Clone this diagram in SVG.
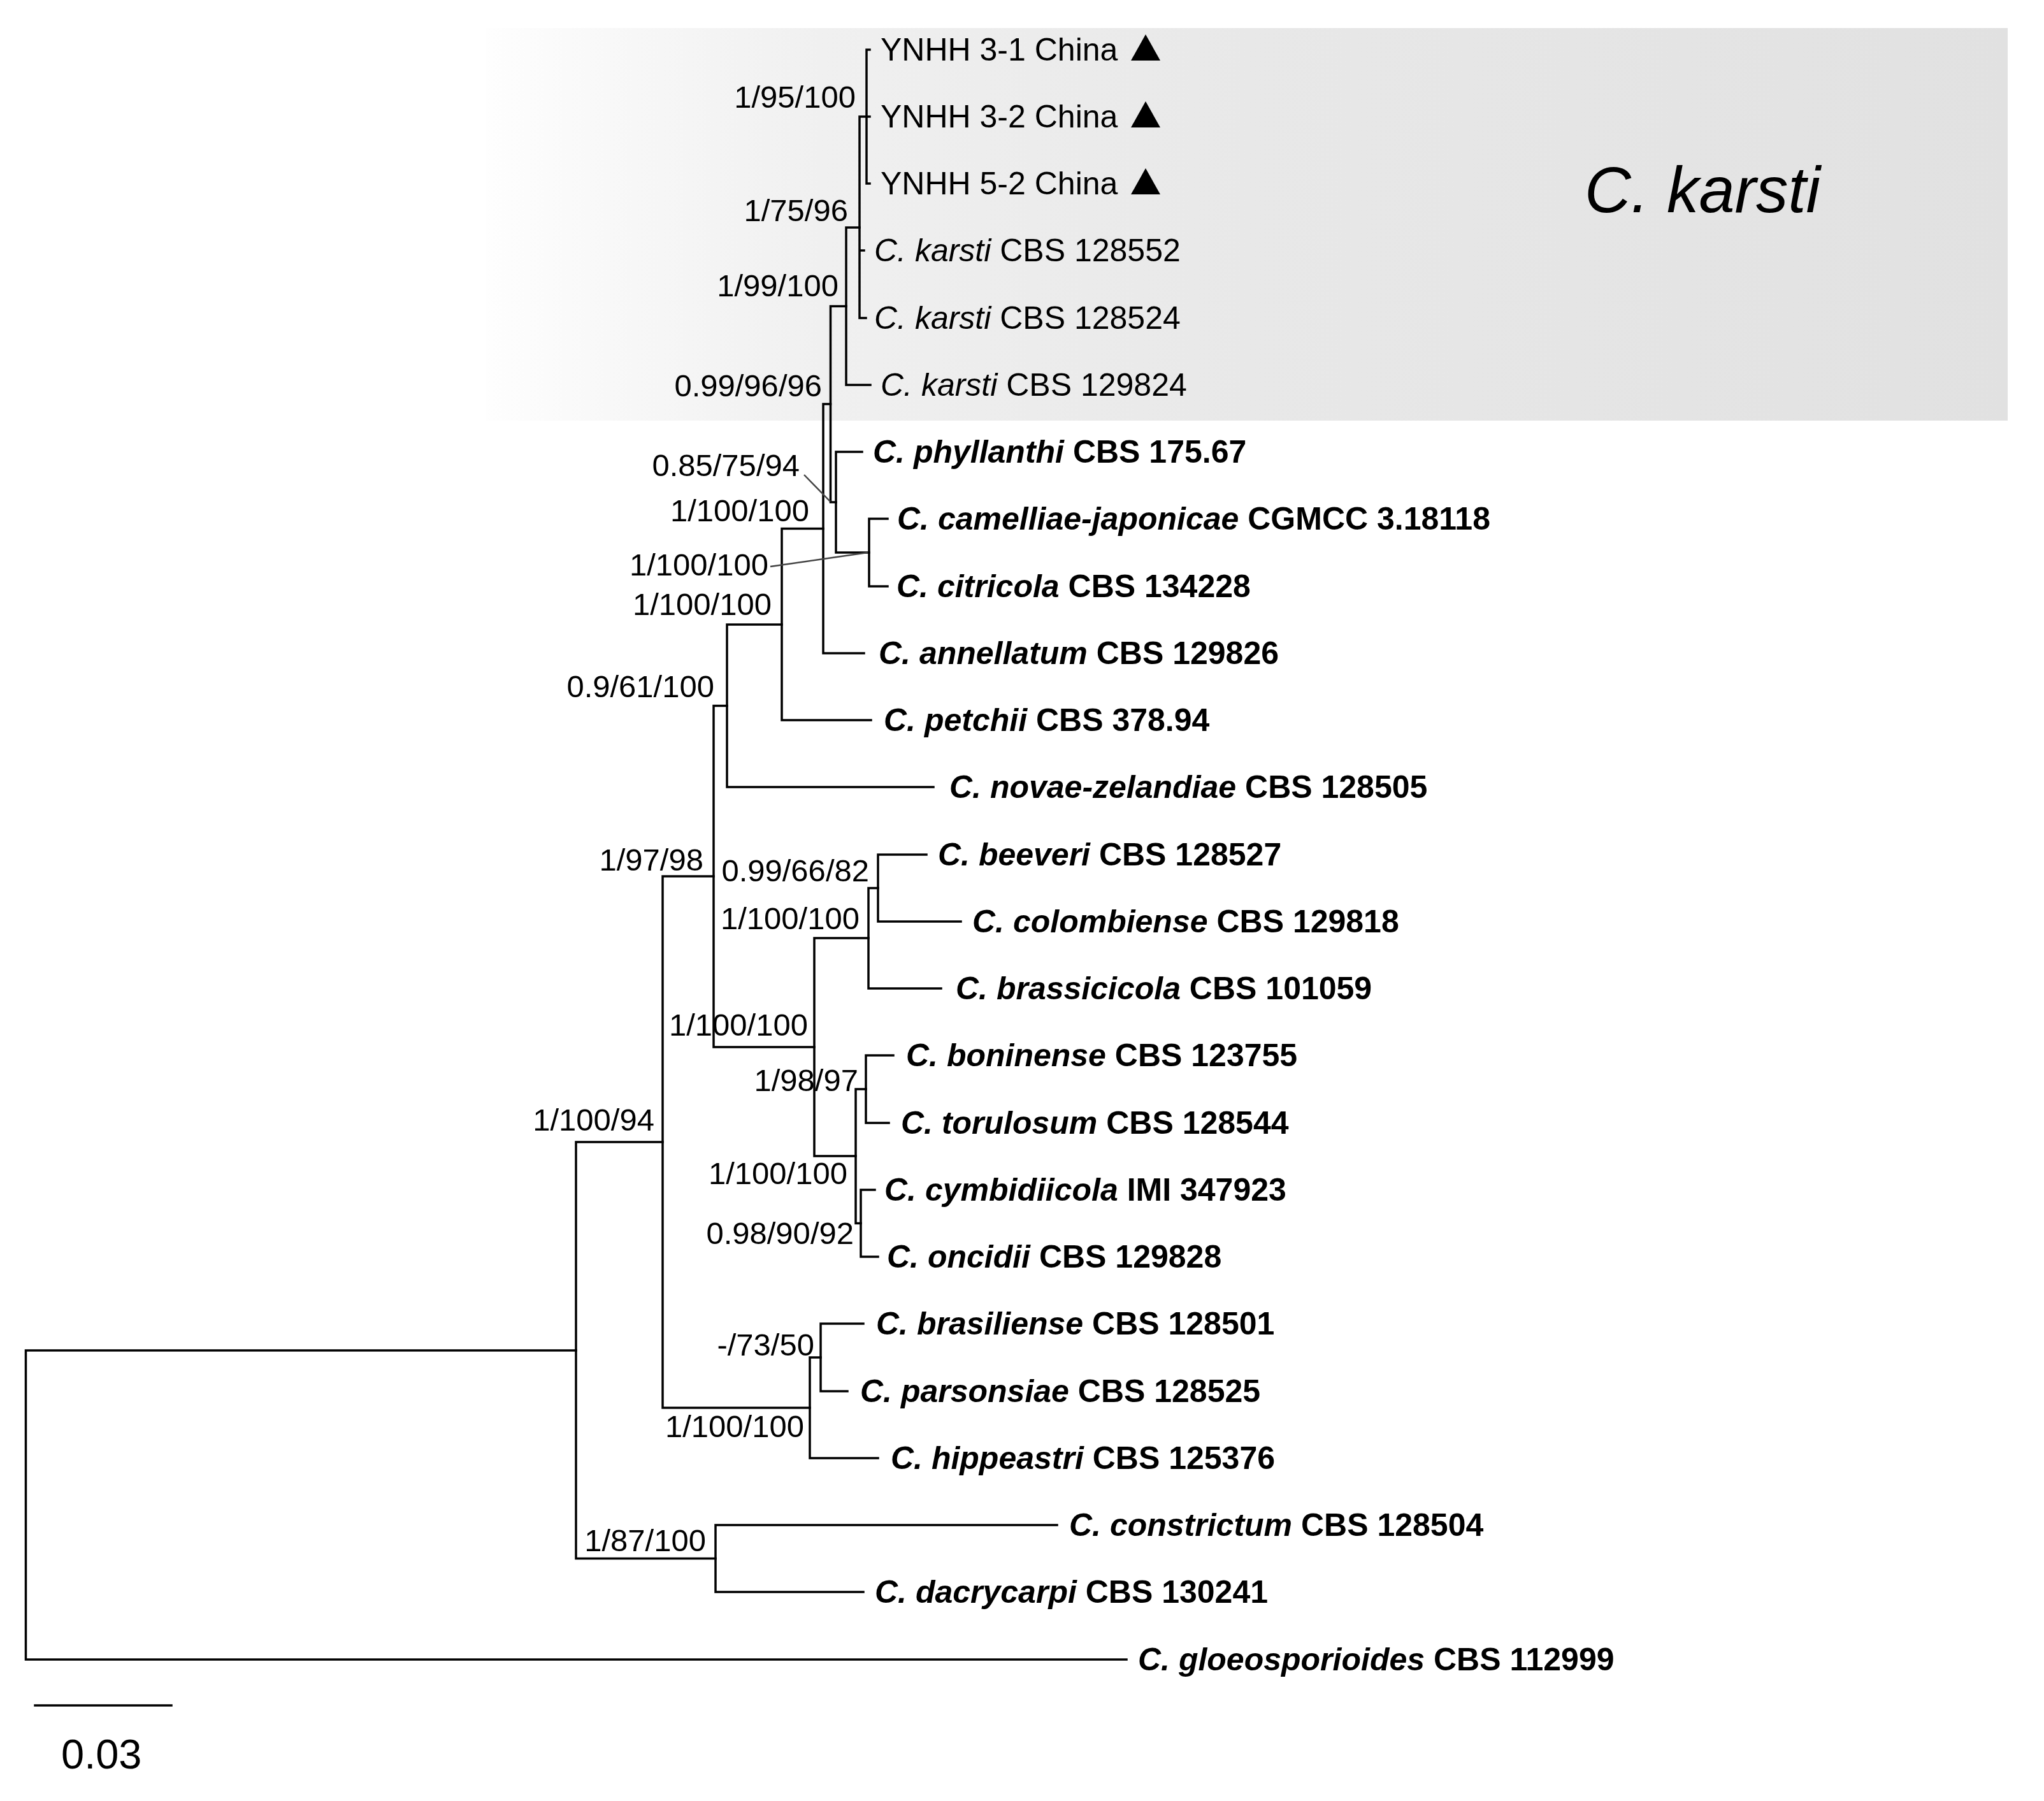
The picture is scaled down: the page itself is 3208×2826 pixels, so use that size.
<svg xmlns="http://www.w3.org/2000/svg" width="3208" height="2826" viewBox="0 0 3208 2826">
<defs>
<linearGradient id="shade" x1="763" y1="0" x2="3151" y2="0" gradientUnits="userSpaceOnUse">
<stop offset="0" stop-color="#fefefe"/>
<stop offset="0.08" stop-color="#f8f8f8"/>
<stop offset="0.22" stop-color="#f0f0f0"/>
<stop offset="0.5" stop-color="#e8e8e8"/>
<stop offset="1" stop-color="#e1e1e1"/>
</linearGradient>
<polygon id="tri" points="0,-24 -23,17 23,17" fill="#000"/>
<style>
.br{stroke:#000;stroke-width:3.5;fill:none;stroke-linecap:square}
.ptr{stroke:#444;stroke-width:2.5;fill:none}
text{font-family:"Liberation Sans",Arial,sans-serif;fill:#000}
.tip{font-size:50px}
.b{font-weight:bold}
.i{font-style:italic}
.sup{font-size:49px;text-anchor:end}
</style>
</defs>
<rect width="3208" height="2826" fill="#fff"/>
<rect id="karsti-clade-box" x="763" y="44" width="2388" height="616" fill="url(#shade)"/>
<text id="clade-label" x="2487" y="333" font-size="102" class="i" textLength="370" lengthAdjust="spacingAndGlyphs">C. karsti</text>

<g id="connectors">
<path class="br" d="M40.5,2119 V2604 M40.5,2119 H904 M40.5,2604 H1768"/>
<path class="br" d="M904,1792 V2445.5 M904,1792 H1040 M904,2445.5 H1123"/>
<path class="br" d="M1123,2393 V2498 M1123,2393 H1659 M1123,2498 H1355"/>
<path class="br" d="M1040,1375 V2209 M1040,1375 H1120 M1040,2209 H1271"/>
<path class="br" d="M1271,2130 V2288 M1271,2130 H1288 M1271,2288 H1378"/>
<path class="br" d="M1288,2077 V2183 M1288,2077 H1355 M1288,2183 H1330"/>
<path class="br" d="M1120,1107.5 V1643 M1120,1107.5 H1141 M1120,1643 H1278"/>
<path class="br" d="M1141,980 V1235 M1141,980 H1227 M1141,1235 H1465"/>
<path class="br" d="M1227,829.5 V1130 M1227,829.5 H1292 M1227,1130 H1367"/>
<path class="br" d="M1292,634 V1025 M1292,634 H1303.5 M1292,1025 H1356"/>
<path class="br" d="M1303.5,480.5 V788 M1303.5,480.5 H1328 M1303.5,788 H1312"/>
<path class="br" d="M1328,357 V604 M1328,357 H1349 M1328,604 H1366"/>
<path class="br" d="M1349,183 V499 M1349,183 H1365 M1349,393 H1356 M1349,499 H1359"/>
<path class="br" d="M1360,78 V288 M1360,78 H1365 M1360,288 H1365"/>
<path class="br" d="M1312,709 V867 M1312,709 H1353 M1312,867 H1364"/>
<path class="br" d="M1364,814 V920 M1364,814 H1393 M1364,920 H1393"/>
<path class="br" d="M1278,1472 V1814 M1278,1472 H1363 M1278,1814 H1343"/>
<path class="br" d="M1363,1393.5 V1551 M1363,1393.5 H1378 M1363,1551 H1477"/>
<path class="br" d="M1378,1341 V1446 M1378,1341 H1454 M1378,1446 H1508"/>
<path class="br" d="M1343,1709 V1919.5 M1343,1709 H1359 M1343,1919.5 H1351"/>
<path class="br" d="M1359,1656 V1762 M1359,1656 H1402 M1359,1762 H1395"/>
<path class="br" d="M1351,1867 V1972 M1351,1867 H1373 M1351,1972 H1378"/>
<line class="ptr" x1="1262" y1="745" x2="1303" y2="787"/>
<line class="ptr" x1="1209" y1="889" x2="1362" y2="867"/>
<line class="br" x1="55" y1="2676" x2="269" y2="2676" stroke-linecap="butt"/>
</g>

<g id="tips">
<g id="t1"><text class="tip" x="1382" y="95">YNHH 3-1 China</text><use href="#tri" x="1798" y="78"/></g>
<g id="t2"><text class="tip" x="1382" y="200">YNHH 3-2 China</text><use href="#tri" x="1798" y="183"/></g>
<g id="t3"><text class="tip" x="1382" y="305">YNHH 5-2 China</text><use href="#tri" x="1798" y="288"/></g>
<g id="t4"><text class="tip" x="1372" y="410"><tspan class="i">C. karsti</tspan> CBS 128552</text></g>
<g id="t5"><text class="tip" x="1372" y="516"><tspan class="i">C. karsti</tspan> CBS 128524</text></g>
<g id="t6"><text class="tip" x="1382" y="621"><tspan class="i">C. karsti</tspan> CBS 129824</text></g>
<g id="t7"><text class="tip b" x="1370" y="726"><tspan class="i">C. phyllanthi</tspan> CBS 175.67</text></g>
<g id="t8"><text class="tip b" x="1408" y="831"><tspan class="i">C. camelliae-japonicae</tspan> CGMCC 3.18118</text></g>
<g id="t9"><text class="tip b" x="1407" y="937"><tspan class="i">C. citricola</tspan> CBS 134228</text></g>
<g id="t10"><text class="tip b" x="1379" y="1042"><tspan class="i">C. annellatum</tspan> CBS 129826</text></g>
<g id="t11"><text class="tip b" x="1387" y="1147"><tspan class="i">C. petchii</tspan> CBS 378.94</text></g>
<g id="t12"><text class="tip b" x="1490" y="1252"><tspan class="i">C. novae-zelandiae</tspan> CBS 128505</text></g>
<g id="t13"><text class="tip b" x="1472" y="1358"><tspan class="i">C. beeveri</tspan> CBS 128527</text></g>
<g id="t14"><text class="tip b" x="1526" y="1463"><tspan class="i">C. colombiense</tspan> CBS 129818</text></g>
<g id="t15"><text class="tip b" x="1500" y="1568"><tspan class="i">C. brassicicola</tspan> CBS 101059</text></g>
<g id="t16"><text class="tip b" x="1422" y="1673"><tspan class="i">C. boninense</tspan> CBS 123755</text></g>
<g id="t17"><text class="tip b" x="1414" y="1779"><tspan class="i">C. torulosum</tspan> CBS 128544</text></g>
<g id="t18"><text class="tip b" x="1388" y="1884"><tspan class="i">C. cymbidiicola</tspan> IMI 347923</text></g>
<g id="t19"><text class="tip b" x="1392" y="1989"><tspan class="i">C. oncidii</tspan> CBS 129828</text></g>
<g id="t20"><text class="tip b" x="1375" y="2094"><tspan class="i">C. brasiliense</tspan> CBS 128501</text></g>
<g id="t21"><text class="tip b" x="1350" y="2200"><tspan class="i">C. parsonsiae</tspan> CBS 128525</text></g>
<g id="t22"><text class="tip b" x="1398" y="2305"><tspan class="i">C. hippeastri</tspan> CBS 125376</text></g>
<g id="t23"><text class="tip b" x="1678" y="2410"><tspan class="i">C. constrictum</tspan> CBS 128504</text></g>
<g id="t24"><text class="tip b" x="1373" y="2515"><tspan class="i">C. dacrycarpi</tspan> CBS 130241</text></g>
<g id="t25"><text class="tip b" x="1786" y="2621"><tspan class="i">C. gloeosporioides</tspan> CBS 112999</text></g>
</g>

<g id="support-values">
<text class="sup" x="1343" y="169">1/95/100</text>
<text class="sup" x="1331" y="347">1/75/96</text>
<text class="sup" x="1316" y="465">1/99/100</text>
<text class="sup" x="1290" y="622">0.99/96/96</text>
<text class="sup" x="1255" y="747">0.85/75/94</text>
<text class="sup" x="1270" y="818">1/100/100</text>
<text class="sup" x="1206" y="903">1/100/100</text>
<text class="sup" x="1211" y="965">1/100/100</text>
<text class="sup" x="1121" y="1094">0.9/61/100</text>
<text class="sup" x="1104" y="1366">1/97/98</text>
<text class="sup" x="1364" y="1383">0.99/66/82</text>
<text class="sup" x="1349" y="1458">1/100/100</text>
<text class="sup" x="1268" y="1625">1/100/100</text>
<text class="sup" x="1347" y="1712">1/98/97</text>
<text class="sup" x="1330" y="1858">1/100/100</text>
<text class="sup" x="1340" y="1952">0.98/90/92</text>
<text class="sup" x="1027" y="1774">1/100/94</text>
<text class="sup" x="1278" y="2127">-/73/50</text>
<text class="sup" x="1262" y="2255">1/100/100</text>
<text class="sup" x="1108" y="2434">1/87/100</text>
</g>

<g id="scale-bar">
<text x="96" y="2775" font-size="65">0.03</text>
</g>
</svg>
